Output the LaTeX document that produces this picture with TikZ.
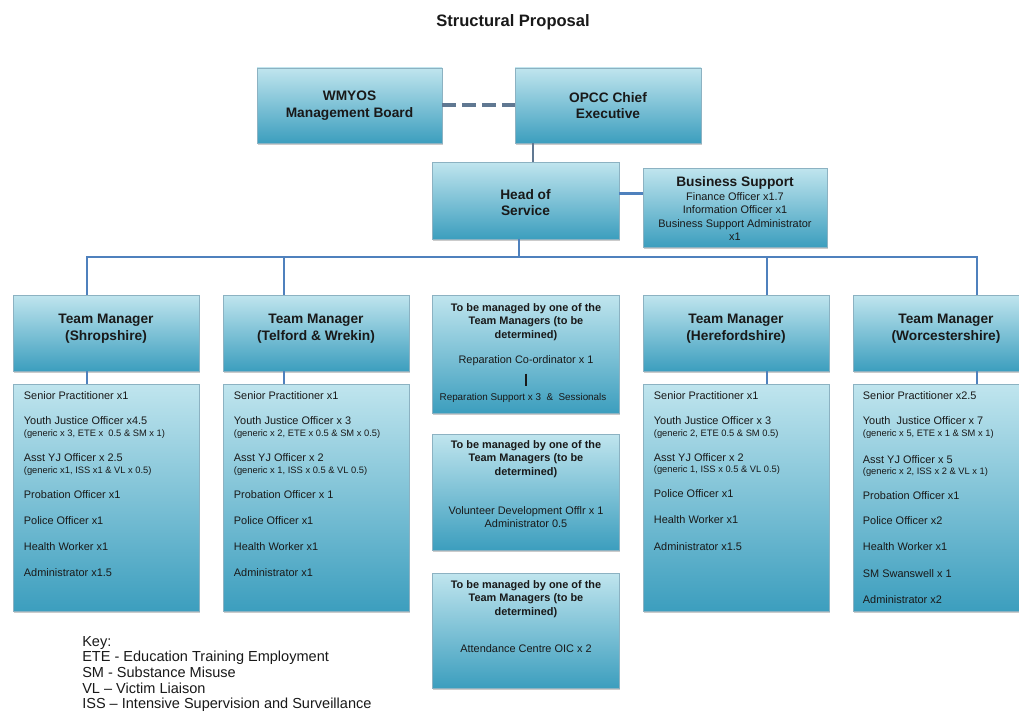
\documentclass[tikz,border=0pt]{standalone}
\usepackage{fontspec}
\setmainfont{Liberation Sans}
\usetikzlibrary{fit,shadows,calc}
\definecolor{boxtop}{RGB}{192,229,238}
\definecolor{boxbot}{RGB}{60,158,190}
\definecolor{boxedge}{RGB}{140,178,194}
\definecolor{linkblue}{RGB}{79,129,189}
\definecolor{linkgray}{RGB}{96,120,146}
\definecolor{txt}{RGB}{25,25,25}
\tikzset{
  box/.style={draw=boxedge, line width=0.5pt, top color=boxtop, bottom color=boxbot,
    inner sep=0pt, drop shadow={shadow xshift=0.6pt, shadow yshift=-1.6pt, fill=black!45, opacity=0.45}},
  ttl/.style={font=\bfseries\fontsize{10.3}{12.5}\selectfont, text=txt, align=center, inner sep=1pt},
  midttl/.style={font=\bfseries\fontsize{8.2}{10.2}\selectfont, text=txt, align=center, inner sep=1pt},
  itm/.style={font=\fontsize{8.2}{10}\selectfont, text=txt, anchor=west, inner sep=0.5pt},
  itms/.style={font=\fontsize{7}{8}\selectfont, text=txt, anchor=west, inner sep=0.5pt},
  midtx/.style={font=\fontsize{8.2}{9.6}\selectfont, text=txt, align=center, inner sep=1pt},
  link/.style={draw=linkblue, line width=1.6pt},
  dashlink/.style={draw=linkgray, line width=3pt, dash pattern=on 10.5pt off 4.5pt},
}
\newcommand\itm[4]{\node[itm] (#1) at (#2,#3) {#4};}
\newcommand\itmS[4]{\node[itms] (#1) at (#2,#3) {#4};}
\begin{document}
\begin{tikzpicture}[x=0.75pt,y=-0.75pt]
\clip (0,0) rectangle (1019,713);
\fill[white] (0,0) rectangle (1019,713);

\node[font=\bfseries\fontsize{12.4}{14}\selectfont, text=txt] (title) at (513,22) {Structural Proposal};

% top boxes
\node[box, fit={(257,68) (442,143)}] (wm) {};
\node[ttl] (wmt) at (wm.center) {WMYOS\\Management Board};
\node[box, fit={(515,68) (701,143)}] (opcc) {};
\node[ttl] (opcct) at (opcc.center) {OPCC Chief\\Executive};
\node[box, fit={(432,162) (619,239)}] (hos) {};
\node[ttl] (host) at ($(hos.center)+(0,2)$) {Head of\\Service};
\node[box, fit={(643,168) (827,247)}] (bs) {};
\node[ttl, inner sep=0pt] (bst) at (735,183) {Business Support};
\node[midtx, anchor=north, font=\fontsize{8.2}{10}\selectfont] (bsx) at (735,191)
  {Finance Officer x1.7\\Information Officer x1\\Business Support Administrator\\x1};

% team manager boxes
\node[box, fit={(13,295) (199,371)}] (tm1) {};
\node[ttl] (tm1t) at (106,329) {Team Manager\\(Shropshire)};
\node[box, fit={(223,295) (409,371)}] (tm2) {};
\node[ttl] (tm2t) at (316,329) {Team Manager\\(Telford \& Wrekin)};
\node[box, fit={(643,295) (829,371)}] (tm3) {};
\node[ttl] (tm3t) at (736,329) {Team Manager\\(Herefordshire)};
\node[box, fit={(853,295) (1040,371)}] (tm4) {};
\node[ttl] (tm4t) at (946,329) {Team Manager\\(Worcestershire)};

% staff boxes
\node[box, fit={(13,384) (199,611)}] (l1) {};
\node[box, fit={(223,384) (409,611)}] (l2) {};
\node[box, fit={(643,384) (829,611)}] (l3) {};
\node[box, fit={(853,384) (1040,611)}] (l4) {};

% middle boxes
\node[box, fit={(432,295) (619,413)}] (m1) {};
\node[box, fit={(432,434) (619,550)}] (m2) {};
\node[box, fit={(432,573) (619,688)}] (m3) {};
\node[midttl] (m1t) at (526,322) {To be managed by one of the\\Team Managers (to be\\determined)};
\node[midttl] (m2t) at (526,459) {To be managed by one of the\\Team Managers (to be\\determined)};
\node[midttl] (m3t) at (526,599) {To be managed by one of the\\Team Managers (to be\\determined)};
\node[midtx] (rc) at (526,361) {Reparation Co-ordinator x 1};
\node[midtx, font=\fontsize{7.4}{9}\selectfont] (rs) at (523,398) {Reparation Support x 3 \ \& \ Sessionals};
\draw[draw=txt, line width=0.9pt] ([yshift=-4.5pt]rc.south) -- ([yshift=4pt]rc.south |- rs.north);
\node[midtx] (vd) at (526,517) {Volunteer Development Offlr x 1\\Administrator 0.5};
\node[midtx] (ac) at (526,649) {Attendance Centre OIC x 2};

% connectors
\draw[dashlink] (wm.east) -- (opcc.west);
\coordinate (c1) at ($(opcc.south west)+(18,0)$);
\draw[draw=linkgray, line width=1.6pt] (c1) -- (c1 |- hos.north);
\coordinate (c2) at ($(hos.east)+(0,-7)$);
\draw[link] (c2) -- (c2 -| bs.west);
\coordinate (bus) at (519,257);
\coordinate (d1) at (87,257);
\coordinate (d2) at (284,257);
\coordinate (d3) at (767,257);
\coordinate (d4) at (977,257);
\draw[link] (hos.south -| bus) -- (bus);
\draw[link] (d1 |- tm1.north) -- (d1) -- (d4) -- (d4 |- tm4.north);
\draw[link] (d2) -- (d2 |- tm2.north);
\draw[link] (d3) -- (d3 |- tm3.north);
\draw[link] (d1 |- tm1.south) -- (d1 |- l1.north);
\draw[link] (d2 |- tm2.south) -- (d2 |- l2.north);
\draw[link] (d3 |- tm3.south) -- (d3 |- l3.north);
\draw[link] (d4 |- tm4.south) -- (d4 |- l4.north);

% Shropshire
\itm{s1}{23}{396}{Senior Practitioner x1}
\itm{s2}{23}{421}{Youth Justice Officer x4.5}
\itmS{s3}{23}{434}{(generic x 3, ETE x \ 0.5 \& SM x 1)}
\itm{s4}{23}{458}{Asst YJ Officer x 2.5}
\itmS{s5}{23}{471}{(generic x1, ISS x1 \& VL x 0.5)}
\itm{s6}{23}{495}{Probation Officer x1}
\itm{s7}{23}{521}{Police Officer x1}
\itm{s8}{23}{547}{Health Worker x1}
\itm{s9}{23}{573}{Administrator x1.5}
% Telford
\itm{t1}{233}{396}{Senior Practitioner x1}
\itm{t2}{233}{421}{Youth Justice Officer x 3}
\itmS{t3}{233}{434}{(generic x 2, ETE x 0.5 \& SM x 0.5)}
\itm{t4}{233}{458}{Asst YJ Officer x 2}
\itmS{t5}{233}{471}{(generic x 1, ISS x 0.5 \& VL 0.5)}
\itm{t6}{233}{495}{Probation Officer x 1}
\itm{t7}{233}{521}{Police Officer x1}
\itm{t8}{233}{547}{Health Worker x1}
\itm{t9}{233}{573}{Administrator x1}
% Herefordshire
\itm{h1}{653}{396}{Senior Practitioner x1}
\itm{h2}{653}{421}{Youth Justice Officer x 3}
\itmS{h3}{653}{434}{(generic 2, ETE 0.5 \& SM 0.5)}
\itm{h4}{653}{458}{Asst YJ Officer x 2}
\itmS{h5}{653}{470}{(generic 1, ISS x 0.5 \& VL 0.5)}
\itm{h6}{653}{494}{Police Officer x1}
\itm{h7}{653}{520}{Health Worker x1}
\itm{h8}{653}{547}{Administrator x1.5}
% Worcestershire
\itm{w1}{862}{396}{Senior Practitioner x2.5}
\itm{w2}{862}{421}{Youth \ Justice Officer x 7}
\itmS{w3}{862}{434}{(generic x 5, ETE x 1 \& SM x 1)}
\itm{w4}{862}{460}{Asst YJ Officer x 5}
\itmS{w5}{862}{472}{(generic x 2, ISS x 2 \& VL x 1)}
\itm{w6}{862}{496}{Probation Officer x1}
\itm{w7}{862}{521}{Police Officer x2}
\itm{w8}{862}{547}{Health Worker x1}
\itm{w9}{862}{574}{SM Swanswell x 1}
\itm{w10}{862}{600}{Administrator x2}

% key
\node[anchor=north west, align=left, inner sep=0pt, text=txt, font=\fontsize{10.9}{11.7}\selectfont] (key) at (82,636)
 {Key:\\ETE - Education Training Employment\\SM - Substance Misuse\\VL – Victim Liaison\\ISS – Intensive Supervision and Surveillance};
\end{tikzpicture}
\end{document}
